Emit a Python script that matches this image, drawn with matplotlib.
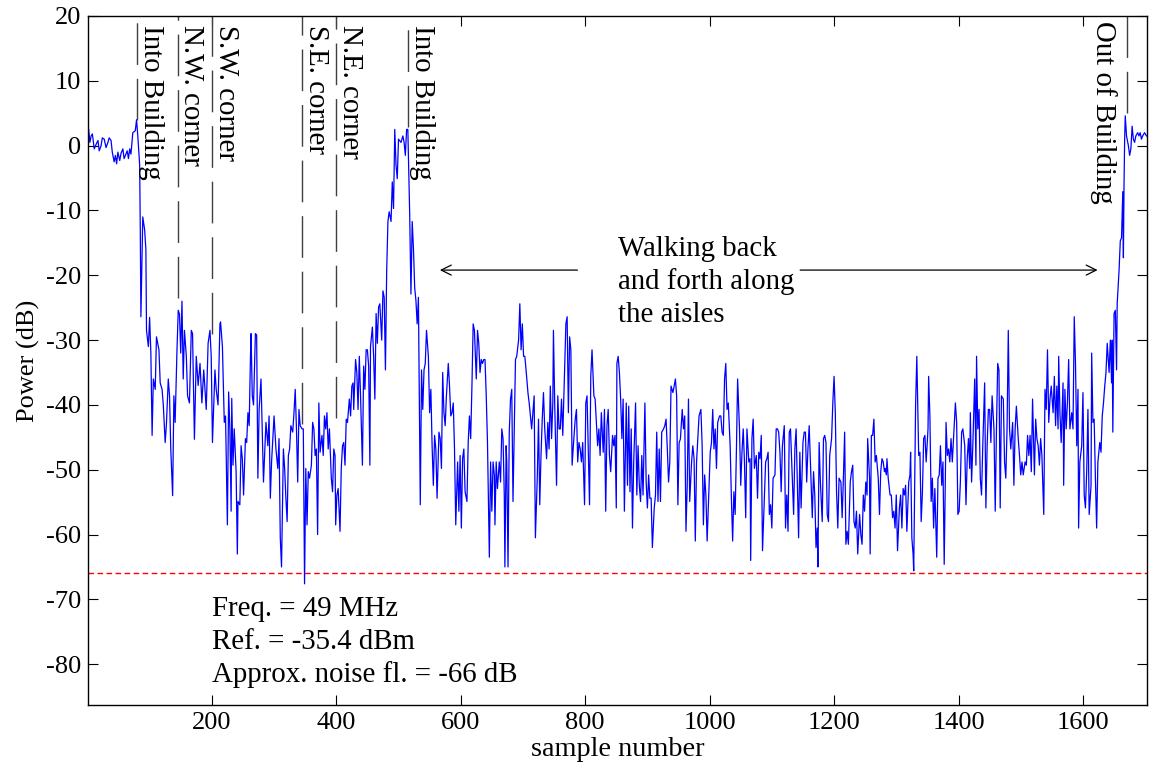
import matplotlib.pyplot as plt
import numpy as np

# (sample number, power dB), in pieces from left to right
trace_a = [(2, 2.5), (4, 0.5), (6, 1.5), (8, 1.8), (11, -0.5), (14, 0.2), (17, 0.8), (19, -0.8),
           (22, 0), (24, 1.2), (27, 1), (30, -0.3), (33, 0.5), (35, 1.2), (38, 0.8), (40, -1),
           (43, -2.5), (45, -1.5), (47, -2.8), (49, -1), (52, -2.3), (54, -1.2), (57, -0.5),
           (59, -2), (62, -1.3), (64, -0.8), (66, -2), (68, -0.5), (70, -1.3), (73, 2), (77, 2.3),
           (79, 4), (81, 1.5), (84, -3), (85, -13), (86, -26.4), (89, -11), (92, -13), (94, -16),
           (95, -28.5), (98, -31), (100, -26.5), (102, -32), (104, -44.7), (106, -36), (109, -37.6),
           (111, -29.5), (115, -31.5), (117, -36.6), (120, -37.6), (122, -40), (125, -45.8),
           (127, -43), (130, -36), (132, -38.6), (134, -46.8), (137, -54), (139, -38.6), (141, -42.7),
           (144, -31.5), (146, -25.4), (148, -26), (150, -32), (152, -24), (154, -36), (156, -28.5),
           (159, -32.5), (161, -38.6), (164, -39.7), (167, -28.5), (169, -29), (172, -45.3),
           (175, -32.5), (178, -37), (181, -33.6), (184, -39.7), (187, -34.6), (191, -40.7),
           (194, -30.5), (197, -28.5), (199, -32.5), (201, -45.8), (205, -34.6), (207, -37.6),
           (210, -40), (213, -27.5)]
trace_b = [(214, -27.2), (217, -31), (220, -42.7), (222, -41.7), (225, -58.5), (227, -38), (229, -43.7),
           (231, -56.4), (232, -39), (234, -49.3), (236, -43.7), (239, -50.3), (241, -63), (242, -54.9),
           (245, -55.4), (247, -46.3), (249, -48.3), (251, -53.9), (254, -45.2), (256, -45.8),
           (258, -41.2), (260, -43.2), (262, -33), (263, -29), (265, -38.6), (267, -40), (270, -29),
           (272, -29.2), (274, -51.3), (276, -40.7), (279, -36), (281, -44.2), (283, -51.9),
           (287, -42.7), (290, -46.3), (292, -41.7), (294, -54.4), (296, -48.8), (300, -41.7),
           (303, -46.8), (306, -49.8), (308, -45.2), (310, -60.5), (312, -65), (315, -46.8),
           (317, -49.8), (319, -54.4), (321, -58), (323, -47.8), (325, -46.8), (327, -43.2),
           (330, -44.2), (332, -41.2), (334, -37.6), (336, -43.7), (338, -51.9), (340, -40.7),
           (342, -43.2), (345, -43.7), (347, -43.7), (349, -67.6), (351, -49.8), (353, -58.5),
           (355, -50.3), (357, -51.3), (360, -49.3), (362, -42.7), (364, -43.7), (366, -47.8),
           (368, -46.8), (370, -60), (372, -39.7), (374, -47.3), (377, -44.7), (379, -47.8),
           (381, -41.7), (383, -43.7), (385, -41.2), (387, -46.8), (389, -43.7), (392, -51.3),
           (394, -53.4), (396, -46.8), (398, -47.8), (399, -58.5), (401, -53.9), (403, -52.9),
           (406, -59.5), (408, -49.8), (410, -46.3), (412, -45.8), (414, -49.3), (416, -42.2),
           (418, -42.7), (421, -39.1), (423, -41.7), (425, -37.1)]
trace_c = [(427, -36.6), (428, -40.7), (431, -33), (433, -35), (435, -40.7), (437, -32.5), (439, -38.6),
           (442, -49.3), (444, -34), (446, -37.6), (448, -31.5), (450, -31.5), (452, -34), (454, -49.3),
           (455, -31), (458, -28), (460, -32.5), (462, -39.1), (464, -25.9), (466, -30.5), (468, -24.9),
           (470, -24.4), (473, -30), (475, -22.4), (477, -23.4), (479, -34.6), (481, -19.3),
           (483, -11.7), (485, -10.2), (488, -11.7), (490, -5.6), (492, -9.7), (494, 2.5), (496, -3),
           (498, -5.1), (500, 1), (504, 0.5), (507, 1.5), (509, 0.5), (511, -1.5), (513, 2.5),
           (515, 2.5), (518, -10.7), (520, -22.9), (522, -11.7), (524, -15.8), (526, -21.9),
           (528, -23.9), (530, -27.5), (532, -23.4), (535, -55.4), (537, -34.6), (539, -40.7),
           (541, -34.6), (543, -33.6), (545, -28.5), (548, -32.5), (550, -41.2), (552, -37.6),
           (554, -46.3), (556, -52.4), (558, -44.7), (560, -46.8), (562, -54.4), (565, -44.2),
           (567, -45.2), (569, -49.8), (571, -35), (573, -41.2), (575, -43.2), (577, -38.6),
           (580, -33.6), (582, -37.1), (584, -41.7), (586, -41.2), (588, -39.7), (590, -46.8),
           (592, -58.5), (595, -48.8), (597, -56.4), (599, -47.8), (601, -59), (603, -48.3),
           (605, -46.8), (607, -53.4), (610, -54.9), (612, -45.8), (614, -41.7), (616, -45.2),
           (618, -37.1), (620, -27.5), (622, -28.5), (625, -36), (627, -28.5), (629, -30.5),
           (631, -35), (633, -33), (635, -33.6), (637, -33)]
trace_d = [(639, -33), (641, -38.6), (643, -45.8), (646, -63.5), (648, -48.8), (650, -56.4), (652, -48.8),
           (654, -50.8), (655, -58.5), (657, -48.8), (659, -52.9), (662, -48.8), (664, -51.9),
           (666, -43.7), (668, -45.2), (670, -53.9), (671, -65), (673, -46.3), (674, -48.8), (676, -65),
           (678, -44.2), (680, -39.1), (682, -37.6), (684, -54.9), (686, -43.7), (688, -33),
           (690, -32.5), (693, -30), (695, -24.4), (697, -31.5), (699, -27.5), (701, -32.5),
           (703, -32.5), (705, -34.6), (708, -38.1), (710, -39.7), (712, -41.7), (714, -43.7),
           (716, -41.2), (718, -38.6), (720, -60.5), (723, -51.3), (725, -42.2), (727, -55.4),
           (729, -47.8), (731, -42.2), (733, -38.1), (735, -43.7), (738, -48.3), (740, -42.7),
           (742, -46.8), (744, -37.1), (746, -45.2), (748, -39.7), (749, -28.5), (751, -39.7),
           (754, -52.4), (756, -38.6), (758, -43.7), (760, -43.7), (762, -39.1), (764, -44.7),
           (766, -37.6), (769, -27.5), (771, -26.4), (773, -41.2), (775, -29.5), (777, -31.5),
           (779, -49.3), (781, -46.3), (784, -42.2), (786, -40.7), (788, -48.8), (790, -45.8),
           (792, -46.8), (794, -48.8), (796, -45.8), (799, -55.4), (801, -39.7), (803, -38.6),
           (805, -47.3), (807, -55.4), (809, -35.6), (811, -31.5), (814, -38.6), (816, -39.1),
           (818, -42.7), (820, -46.3), (822, -43.7), (824, -47.8), (826, -41.2), (829, -47.3),
           (831, -40.7), (833, -56.4), (835, -43.2), (837, -40.7), (839, -47.8), (841, -50.3),
           (844, -44.7), (846, -46.3), (848, -44.7), (850, -55.9), (851, -33.6)]
trace_e = [(853, -32.5), (855, -35), (857, -39.1), (859, -45.2), (861, -39.1), (863, -56.4), (866, -39.7),
           (868, -52.4), (870, -40.2), (872, -53.4), (874, -43.7), (876, -59), (878, -48.8),
           (881, -39.7), (883, -53.9), (885, -46.3), (887, -52.4), (889, -54.9), (891, -47.8),
           (893, -53.9), (896, -39.7), (898, -51.9), (900, -55.9), (902, -50.8), (904, -54.4),
           (906, -54.4), (908, -62), (911, -55.9), (913, -53.9), (915, -44.2), (917, -54.9),
           (919, -46.8), (921, -54.9), (923, -44.2), (926, -43.7), (928, -43.2), (930, -42.2),
           (932, -46.8), (934, -51.9), (936, -48.8), (938, -37.1), (941, -38.1), (943, -37.1),
           (945, -36), (947, -38.6), (949, -55.4), (951, -45.8), (953, -45.3), (956, -40.7),
           (958, -43.7), (960, -41.7), (962, -59.5), (964, -52.4), (966, -39.1), (968, -54.9),
           (971, -48.8), (973, -46.3), (975, -48.3), (977, -61), (979, -48.8), (981, -45.2),
           (983, -41.7), (986, -40.7), (988, -46.3), (990, -58.5), (992, -50.8), (994, -53.9),
           (996, -61), (998, -55.4), (1001, -47.3), (1003, -45.8), (1005, -40.7), (1007, -46.8),
           (1009, -43.7), (1011, -49.8), (1013, -42.7), (1016, -41.7), (1018, -41.7), (1020, -44.2),
           (1022, -44.7), (1024, -36), (1026, -33.6), (1028, -40.7), (1030, -39.7), (1033, -46.3),
           (1035, -54.4), (1037, -61), (1039, -53.4), (1041, -56.9), (1043, -47.3), (1045, -36),
           (1048, -43.7), (1050, -52.4), (1052, -47.3), (1054, -43.7), (1056, -48.8), (1058, -57.4),
           (1060, -43.7), (1063, -48.8), (1065, -48.3)]
trace_f = [(1066, -64), (1068, -45.2), (1070, -42.2), (1072, -49.8), (1075, -47.8), (1077, -54.4),
           (1079, -47.3), (1081, -48.3), (1083, -44.7), (1085, -62.5), (1087, -56.9), (1090, -48.8),
           (1092, -48.3), (1094, -47.3), (1096, -56.9), (1098, -55.4), (1100, -59), (1102, -51.3),
           (1105, -50.8), (1107, -43.7), (1109, -43.7), (1111, -44.2), (1113, -47.3), (1115, -53.4),
           (1117, -46.3), (1120, -43.2), (1122, -59), (1124, -53.9), (1126, -59.5), (1128, -44.2),
           (1130, -43.7), (1132, -48.8), (1135, -56.9), (1137, -46.8), (1139, -43.7), (1141, -51.9),
           (1143, -60.5), (1145, -47.3), (1147, -55.9), (1150, -45.8), (1152, -44.2), (1154, -44.2),
           (1156, -51.9), (1158, -46.8), (1160, -43.2), (1162, -48.8), (1165, -57.4), (1167, -50.3),
           (1169, -53.9), (1171, -62), (1173, -59), (1174, -65), (1176, -45.8), (1178, -51.9),
           (1181, -58), (1183, -45.2), (1185, -44.7), (1187, -45.8), (1189, -56.9), (1191, -58),
           (1193, -47.8), (1196, -45.2), (1198, -39.7), (1200, -35.6), (1202, -41.2), (1204, -53.4),
           (1206, -59), (1208, -51.3), (1211, -51.9), (1213, -57.4), (1215, -51.3), (1217, -44.2),
           (1219, -61.5), (1221, -59.5), (1223, -61.5), (1226, -51.9), (1228, -50.3), (1230, -49.3),
           (1232, -58), (1234, -59), (1236, -56.4), (1238, -63), (1241, -56.9), (1243, -60),
           (1245, -61.5), (1247, -53.9), (1249, -56.4), (1251, -51.9), (1253, -53.9), (1254, -45.2),
           (1257, -51.3), (1258, -63), (1260, -44.7), (1262, -44.7), (1264, -42.2), (1266, -48.8),
           (1268, -47.8), (1271, -51.3), (1273, -56.9), (1275, -50.3), (1277, -48.3), (1279, -48.8)]
trace_g = [(1281, -50.3), (1282, -49.8), (1284, -50.8), (1285, -48.3), (1287, -51.3), (1290, -53.9),
           (1292, -53.9), (1294, -57.4), (1296, -56.4), (1298, -59), (1300, -53.9), (1302, -62.5),
           (1305, -55.9), (1307, -53.9), (1309, -59), (1311, -52.9), (1313, -53.9), (1315, -52.4),
           (1317, -59.5), (1320, -51.9), (1322, -50.8), (1323, -47.3), (1325, -60.5), (1327, -63),
           (1328, -65.6), (1330, -48.8), (1331, -40.2), (1333, -32.5), (1336, -47.8), (1338, -47.3),
           (1340, -58), (1342, -53.4), (1344, -45.2), (1346, -44.7), (1348, -48.8), (1351, -43.7),
           (1352, -35.6), (1354, -41.7), (1356, -54.9), (1358, -51.3), (1360, -59), (1362, -52.9),
           (1365, -63.5), (1367, -51.3), (1369, -50.8), (1371, -46.3), (1373, -52.4), (1375, -48.8),
           (1377, -64.6), (1380, -42.7), (1382, -47.8), (1384, -46.8), (1386, -48.8), (1388, -45.2),
           (1390, -48.8), (1392, -45.2), (1395, -39.7), (1397, -42.7), (1399, -56.9), (1401, -56.4),
           (1403, -51.9), (1405, -44.2), (1407, -43.7), (1410, -46.3), (1412, -55.4), (1414, -48.3),
           (1416, -45.2), (1418, -49.8), (1419, -41.2), (1421, -51.9), (1423, -46.3), (1426, -36),
           (1428, -49.3), (1429, -32.5), (1431, -43.7), (1433, -40.7), (1435, -51.3), (1437, -53.9),
           (1439, -46.3), (1442, -36.6), (1444, -55.9), (1446, -46.3), (1448, -40.7), (1450, -40.7),
           (1452, -45.8), (1454, -38.6), (1457, -43.7), (1459, -56.4), (1461, -43.7), (1463, -33.6),
           (1465, -34.6), (1467, -55.9), (1469, -38.6), (1472, -39.1), (1474, -48.8), (1476, -51.3),
           (1478, -43.7), (1480, -28.5), (1482, -43.7), (1484, -46.8), (1487, -42.7), (1489, -52.4),
           (1491, -43.7)]
trace_h = [(1493, -40.2), (1496, -45.2), (1498, -47.8), (1500, -50.8), (1502, -48.8), (1504, -50.8),
           (1507, -48.8), (1509, -49.3), (1511, -44.7), (1513, -47.8), (1515, -44.7), (1517, -50.3),
           (1519, -39.1), (1522, -50.8), (1524, -42.2), (1526, -45.2), (1528, -46.3), (1530, -49.3),
           (1532, -45.2), (1534, -47.8), (1537, -56.9), (1539, -37.6), (1541, -40.7), (1543, -31.5),
           (1545, -42.7), (1547, -39.1), (1549, -37.1), (1552, -41.2), (1554, -35.6), (1556, -43.2),
           (1558, -37.1), (1560, -43.7), (1561, -32.5), (1563, -41.2), (1565, -45.8), (1568, -36.6),
           (1569, -52.4), (1571, -37.6), (1573, -43.7), (1575, -39.7), (1577, -33), (1579, -43.7),
           (1582, -41.2), (1584, -43.7), (1586, -26.4), (1588, -33.6), (1590, -46.3), (1592, -37.6),
           (1593, -59), (1595, -48.8), (1598, -46.3), (1600, -38.1), (1602, -53.9), (1604, -55.9),
           (1606, -50.3), (1608, -40.7), (1610, -56.9), (1613, -52.4), (1614, -32), (1616, -42.7),
           (1618, -42.2), (1620, -51.3), (1622, -59), (1624, -48.8), (1627, -45.8), (1629, -47.3),
           (1631, -41.7), (1633, -39.7), (1635, -37.1), (1637, -35), (1639, -30.5), (1642, -35),
           (1644, -30), (1646, -36.6), (1647, -30), (1648, -44.2), (1650, -25.9), (1652, -25.4),
           (1654, -34.6), (1655, -24.4), (1658, -19.3), (1660, -14.7), (1662, -14.2), (1664, -7.1),
           (1665, -17.3), (1666, -6.1), (1667, 1), (1668, 4.6), (1670, 1.5), (1673, 0), (1675, -1.5),
           (1677, -0.5), (1679, 3), (1681, 1), (1683, 0.5), (1685, 1.5), (1688, 2), (1690, 1.5),
           (1692, 2), (1694, 1), (1696, 1.5), (1699, 2), (1702, 1.5)]

# event markers
marker_samples = [80, 145, 200, 345, 400, 516, 1671]
marker_labels = ['Into Building', 'N.W. corner', 'S.W. corner', 'S.E. corner',
                 'N.E. corner', 'Into Building', 'Out of Building']
marker_bottoms = [4, -23.5, -29, -43, -42, 2.8, 5]

noise_floor = -66
info_lines = ['Freq. = 49 MHz', 'Ref. = -35.4 dBm', 'Approx. noise fl. = -66 dB']
walk_text = 'Walking back\nand forth along\nthe aisles'

plt.rcParams['font.family'] = ['Liberation Serif', 'DejaVu Serif']
plt.rcParams['axes.unicode_minus'] = False
fs = 19      # tick labels
fs_note = 20.8  # annotations

pairs = trace_a + trace_b + trace_c + trace_d + trace_e + trace_f + trace_g + trace_h
x = np.array([p[0] for p in pairs])
y = np.array([p[1] for p in pairs])

fig = plt.figure(figsize=(11.49, 7.69), dpi=100)
ax = fig.add_axes([0.0766, 0.0832, 0.9217, 0.896])

ax.plot(x, y, color='#0000ff', linewidth=0.9)
ax.axhline(noise_floor, color='#ff0000', linewidth=1.0, dashes=(4, 2.5))

for i, s in enumerate(marker_samples):
	ax.plot([s, s], [marker_bottoms[i], 20], color='0.25', linewidth=1.0, dashes=(30, 10))
	if marker_labels[i] == 'Out of Building':
		ax.annotate(marker_labels[i], xy=(s, 19.2), xytext=(-7, 0), textcoords='offset points',
					rotation=-90, ha='right', va='top', fontsize=fs_note)
	else:
		ax.annotate(marker_labels[i], xy=(s, 18.6), xytext=(0.5, 0), textcoords='offset points',
					rotation=-90, ha='left', va='top', fontsize=fs_note)

ax.annotate('', xy=(562, -19.2), xytext=(792, -19.2),
			arrowprops=dict(arrowstyle='->', color='black', lw=0.9, mutation_scale=18))
ax.annotate('', xy=(1628, -19.2), xytext=(1141, -19.2),
			arrowprops=dict(arrowstyle='->', color='black', lw=0.9, mutation_scale=18))
ax.text(852, -21.0, walk_text, fontsize=fs_note, ha='left', va='center', linespacing=1.33)
ax.text(200, -76.6, '\n'.join(info_lines), fontsize=fs_note, ha='left', va='center', linespacing=1.33)

ax.set_xlim(1, 1703)
ax.set_ylim(-86.3, 20)
ax.set_xticks(np.arange(200, 1601, 200))
ax.set_yticks(np.arange(-80, 21, 10))
ax.tick_params(direction='in', top=True, right=True, length=7, width=0.8, labelsize=fs, pad=5)
for sp in ax.spines.values():
	sp.set_linewidth(1.0)
ax.set_xlabel('sample number', fontsize=20.3, labelpad=2)
ax.set_ylabel('Power (dB)', fontsize=fs, labelpad=4)

fig.savefig('out.png', dpi=100)
